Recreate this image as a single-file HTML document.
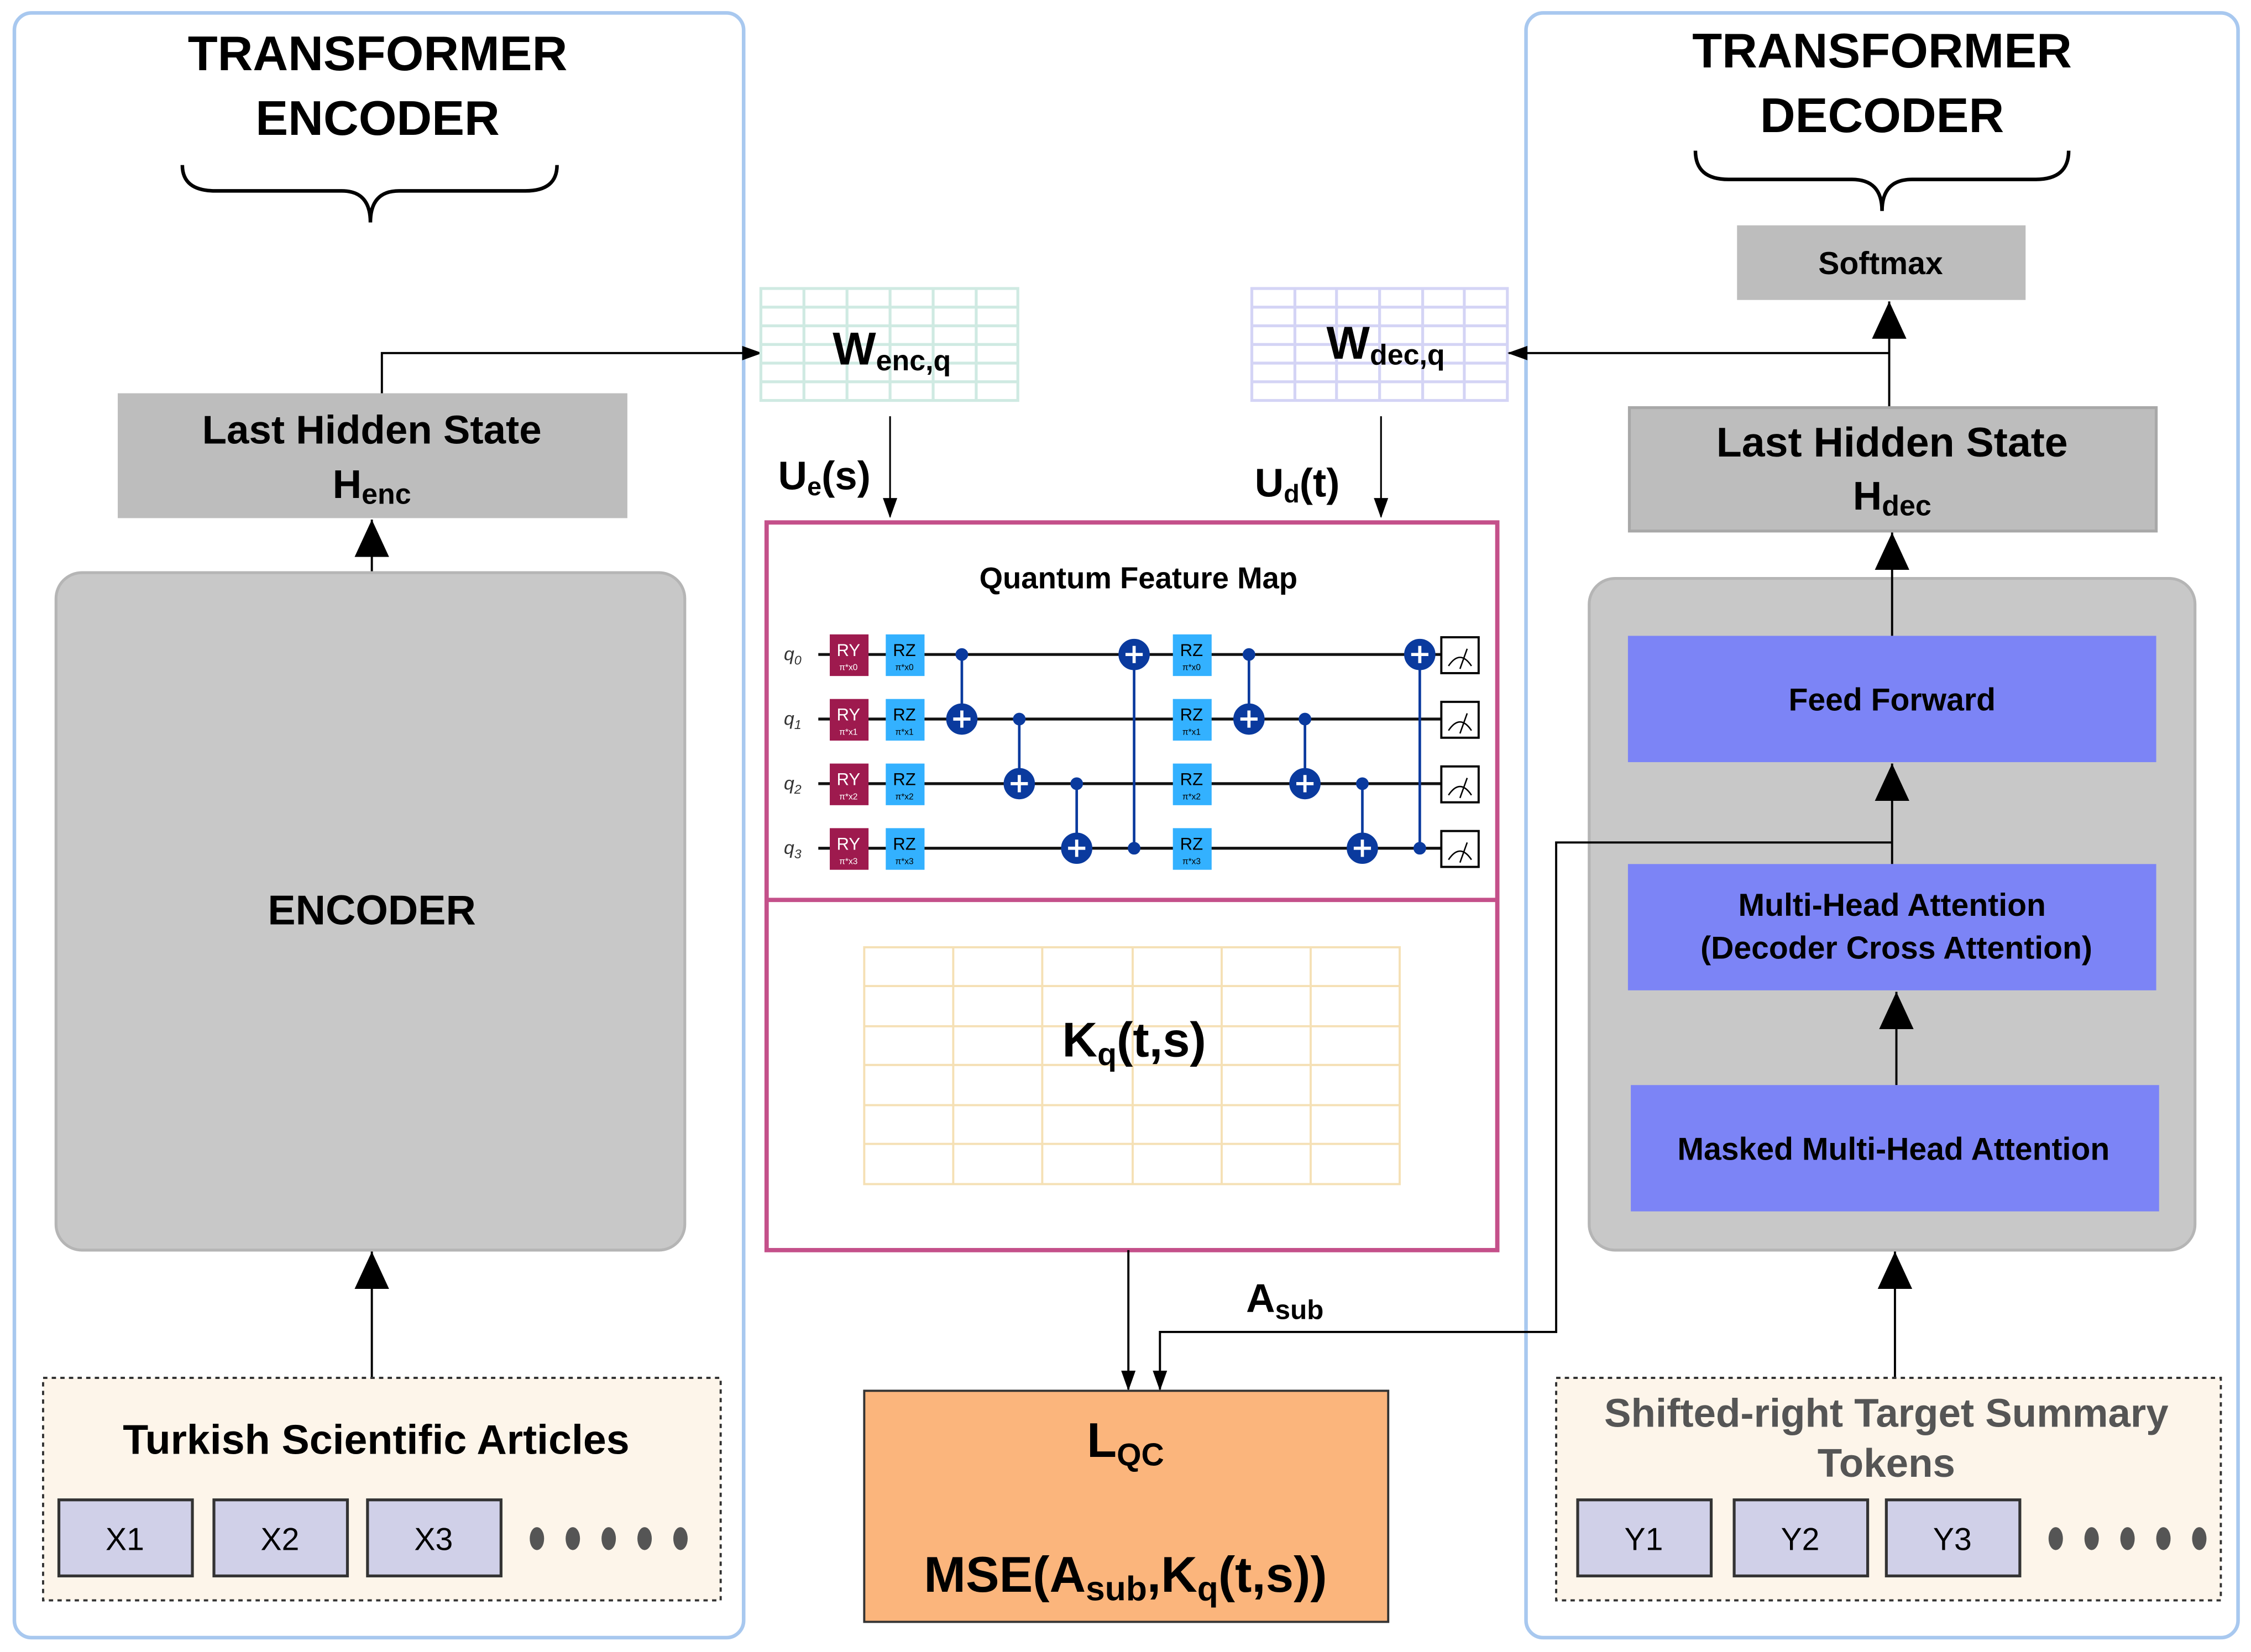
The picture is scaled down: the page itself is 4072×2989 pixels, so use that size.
<!DOCTYPE html>
<html><head><meta charset="utf-8"><style>
html,body{margin:0;padding:0;background:#fff;}
svg{display:block;}
text{font-family:"Liberation Sans",Arial,sans-serif;font-weight:bold;fill:#000;}
</style></head><body>
<svg width="4072" height="2989" viewBox="0 0 1568 1151" xmlns="http://www.w3.org/2000/svg">
<defs>
<marker id="sm" markerWidth="14" markerHeight="12" refX="13" refY="6" orient="auto" markerUnits="userSpaceOnUse" viewBox="0 0 14 12"><path d="M0,1 L14,6 L0,11 z" fill="#000"/></marker>
</defs>
<rect width="1568" height="1151" fill="#fff"/>

<!-- LEFT PANEL -->
<rect x="10" y="9" width="508" height="1132" rx="12" fill="none" stroke="#a8c8ef" stroke-width="2.5"/>
<text x="263" y="49" font-size="34" text-anchor="middle">TRANSFORMER</text>
<text x="263" y="94" font-size="34" text-anchor="middle">ENCODER</text>
<path d="M127,115 Q127,133 150,133 L238,133 Q258,133 258,155 Q258,133 278,133 L366,133 Q388,133 388,115" fill="none" stroke="#000" stroke-width="2.5"/>

<rect x="82" y="274" width="355" height="87" fill="#bdbdbd"/>
<text x="259" y="309" font-size="28" text-anchor="middle">Last Hidden State</text>
<text x="259" y="347" font-size="28" text-anchor="middle">H<tspan font-size="20" dy="4">enc</tspan></text>

<polyline points="266,274 266,246 530,246" fill="none" stroke="#000" stroke-width="1.5" marker-end="url(#sm)"/>
<line x1="259" y1="399" x2="259" y2="362" stroke="#000" stroke-width="1.5"/>
<path d="M247,388 L259,362 L271,388 z" fill="#000"/>

<rect x="39" y="399" width="438" height="472" rx="18" fill="#c8c8c8" stroke="#b5b5b5" stroke-width="2"/>
<text x="259" y="644" font-size="29" text-anchor="middle">ENCODER</text>

<line x1="259" y1="960" x2="259" y2="872" stroke="#000" stroke-width="1.5"/>
<path d="M247,898 L259,872 L271,898 z" fill="#000"/>

<rect x="30" y="960" width="472" height="155" fill="#fdf5ea" stroke="#333" stroke-width="1.5" stroke-dasharray="3,3"/>
<text x="262" y="1013" font-size="29" text-anchor="middle">Turkish Scientific Articles</text>
<rect x="41" y="1045" width="93" height="53" fill="#d0d0e8" stroke="#333" stroke-width="2"/>
<rect x="149" y="1045" width="93" height="53" fill="#d0d0e8" stroke="#333" stroke-width="2"/>
<rect x="256" y="1045" width="93" height="53" fill="#d0d0e8" stroke="#333" stroke-width="2"/>
<text x="87" y="1080" font-size="22" text-anchor="middle" style="font-weight:normal">X1</text>
<text x="195" y="1080" font-size="22" text-anchor="middle" style="font-weight:normal">X2</text>
<text x="302" y="1080" font-size="22" text-anchor="middle" style="font-weight:normal">X3</text>
<g fill="#555"><ellipse cx="374" cy="1072" rx="5" ry="8"/><ellipse cx="399" cy="1072" rx="5" ry="8"/><ellipse cx="424" cy="1072" rx="5" ry="8"/><ellipse cx="449" cy="1072" rx="5" ry="8"/><ellipse cx="474" cy="1072" rx="5" ry="8"/></g>

<!-- CENTER -->
<g stroke="#cfeae2" stroke-width="2" fill="none">
<rect x="530" y="201" width="179" height="78"/>
<line x1="560" y1="201" x2="560" y2="279"/><line x1="590" y1="201" x2="590" y2="279"/><line x1="620" y1="201" x2="620" y2="279"/><line x1="650" y1="201" x2="650" y2="279"/><line x1="680" y1="201" x2="680" y2="279"/>
<line x1="530" y1="214" x2="709" y2="214"/><line x1="530" y1="227" x2="709" y2="227"/><line x1="530" y1="240" x2="709" y2="240"/><line x1="530" y1="253" x2="709" y2="253"/><line x1="530" y1="266" x2="709" y2="266"/>
</g>
<g stroke="#d4d4f5" stroke-width="2" fill="none">
<rect x="872" y="201" width="178" height="78"/>
<line x1="902" y1="201" x2="902" y2="279"/><line x1="931" y1="201" x2="931" y2="279"/><line x1="961" y1="201" x2="961" y2="279"/><line x1="991" y1="201" x2="991" y2="279"/><line x1="1020" y1="201" x2="1020" y2="279"/>
<line x1="872" y1="214" x2="1050" y2="214"/><line x1="872" y1="227" x2="1050" y2="227"/><line x1="872" y1="240" x2="1050" y2="240"/><line x1="872" y1="253" x2="1050" y2="253"/><line x1="872" y1="266" x2="1050" y2="266"/>
</g>
<text x="580" y="254" font-size="32">W<tspan font-size="20" dy="4">enc,q</tspan></text>
<text x="924" y="250" font-size="32">W<tspan font-size="20" dy="4">dec,q</tspan></text>

<line x1="620" y1="290" x2="620" y2="360" stroke="#000" stroke-width="1.2" marker-end="url(#sm)"/>
<line x1="962" y1="290" x2="962" y2="360" stroke="#000" stroke-width="1.2" marker-end="url(#sm)"/>
<text x="542" y="341" font-size="28">U<tspan font-size="18" dy="4">e</tspan><tspan dy="-4">(s)</tspan></text>
<text x="874" y="346" font-size="28">U<tspan font-size="18" dy="4">d</tspan><tspan dy="-4">(t)</tspan></text>

<rect x="534" y="364" width="509" height="507" fill="#fff" stroke="#c4508a" stroke-width="3"/>
<line x1="534" y1="627" x2="1043" y2="627" stroke="#c4508a" stroke-width="3"/>
<text x="793" y="410" font-size="21" text-anchor="middle">Quantum Feature Map</text>

<!-- circuit -->
<g stroke="#111" stroke-width="2">
<line x1="570" y1="456" x2="1004" y2="456"/><line x1="570" y1="501" x2="1004" y2="501"/><line x1="570" y1="546" x2="1004" y2="546"/><line x1="570" y1="591" x2="1004" y2="591"/>
</g>
<g font-size="13">
<text x="546" y="460" style="font-weight:normal;font-style:italic;fill:#333">q<tspan font-size="9" dy="3">0</tspan></text>
<text x="546" y="505" style="font-weight:normal;font-style:italic;fill:#333">q<tspan font-size="9" dy="3">1</tspan></text>
<text x="546" y="550" style="font-weight:normal;font-style:italic;fill:#333">q<tspan font-size="9" dy="3">2</tspan></text>
<text x="546" y="595" style="font-weight:normal;font-style:italic;fill:#333">q<tspan font-size="9" dy="3">3</tspan></text>
</g>
<g>
<rect x="578" y="442" width="27" height="29" fill="#9e1a4e"/><rect x="578" y="487" width="27" height="29" fill="#9e1a4e"/><rect x="578" y="532" width="27" height="29" fill="#9e1a4e"/><rect x="578" y="577" width="27" height="29" fill="#9e1a4e"/>
<rect x="617" y="442" width="27" height="29" fill="#33b1ff"/><rect x="617" y="487" width="27" height="29" fill="#33b1ff"/><rect x="617" y="532" width="27" height="29" fill="#33b1ff"/><rect x="617" y="577" width="27" height="29" fill="#33b1ff"/>
<rect x="817" y="442" width="27" height="29" fill="#33b1ff"/><rect x="817" y="487" width="27" height="29" fill="#33b1ff"/><rect x="817" y="532" width="27" height="29" fill="#33b1ff"/><rect x="817" y="577" width="27" height="29" fill="#33b1ff"/>
</g>
<g font-size="12" text-anchor="middle">
<text x="591" y="457" style="font-weight:normal;fill:#fff">RY</text><text x="591" y="502" style="font-weight:normal;fill:#fff">RY</text><text x="591" y="547" style="font-weight:normal;fill:#fff">RY</text><text x="591" y="592" style="font-weight:normal;fill:#fff">RY</text>
<text x="630" y="457" style="font-weight:normal">RZ</text><text x="630" y="502" style="font-weight:normal">RZ</text><text x="630" y="547" style="font-weight:normal">RZ</text><text x="630" y="592" style="font-weight:normal">RZ</text>
<text x="830" y="457" style="font-weight:normal">RZ</text><text x="830" y="502" style="font-weight:normal">RZ</text><text x="830" y="547" style="font-weight:normal">RZ</text><text x="830" y="592" style="font-weight:normal">RZ</text>
</g>
<g font-size="6" text-anchor="middle">
<text x="591" y="467" style="font-weight:normal;fill:#fff">π*x0</text><text x="591" y="512" style="font-weight:normal;fill:#fff">π*x1</text><text x="591" y="557" style="font-weight:normal;fill:#fff">π*x2</text><text x="591" y="602" style="font-weight:normal;fill:#fff">π*x3</text>
<text x="630" y="467" style="font-weight:normal">π*x0</text><text x="630" y="512" style="font-weight:normal">π*x1</text><text x="630" y="557" style="font-weight:normal">π*x2</text><text x="630" y="602" style="font-weight:normal">π*x3</text>
<text x="830" y="467" style="font-weight:normal">π*x0</text><text x="830" y="512" style="font-weight:normal">π*x1</text><text x="830" y="557" style="font-weight:normal">π*x2</text><text x="830" y="602" style="font-weight:normal">π*x3</text>
</g>
<g stroke="#0a3a9e" stroke-width="1.8" fill="#0a3a9e">
<line x1="670" y1="456" x2="670" y2="501"/><circle cx="670" cy="456" r="3.5"/><circle cx="670" cy="501" r="10"/>
<line x1="710" y1="501" x2="710" y2="546"/><circle cx="710" cy="501" r="3.5"/><circle cx="710" cy="546" r="10"/>
<line x1="750" y1="546" x2="750" y2="591"/><circle cx="750" cy="546" r="3.5"/><circle cx="750" cy="591" r="10"/>
<line x1="790" y1="456" x2="790" y2="591"/><circle cx="790" cy="591" r="3.5"/><circle cx="790" cy="456" r="10"/>
<line x1="870" y1="456" x2="870" y2="501"/><circle cx="870" cy="456" r="3.5"/><circle cx="870" cy="501" r="10"/>
<line x1="909" y1="501" x2="909" y2="546"/><circle cx="909" cy="501" r="3.5"/><circle cx="909" cy="546" r="10"/>
<line x1="949" y1="546" x2="949" y2="591"/><circle cx="949" cy="546" r="3.5"/><circle cx="949" cy="591" r="10"/>
<line x1="989" y1="456" x2="989" y2="591"/><circle cx="989" cy="591" r="3.5"/><circle cx="989" cy="456" r="10"/>
</g>
<g stroke="#fff" stroke-width="2.2">
<path d="M664,501 H676 M670,495 V507"/><path d="M704,546 H716 M710,540 V552"/><path d="M744,591 H756 M750,585 V597"/><path d="M784,456 H796 M790,450 V462"/>
<path d="M864,501 H876 M870,495 V507"/><path d="M903,546 H915 M909,540 V552"/><path d="M943,591 H955 M949,585 V597"/><path d="M983,456 H995 M989,450 V462"/>
</g>
<g stroke="#000" stroke-width="1.5" fill="#fff">
<rect x="1004" y="444" width="26" height="25"/><rect x="1004" y="489" width="26" height="25"/><rect x="1004" y="534" width="26" height="25"/><rect x="1004" y="579" width="26" height="25"/>
</g>
<g stroke="#000" stroke-width="1" fill="none">
<path d="M1009,464 Q1017,452 1025,464 M1017,466 L1022,452"/><path d="M1009,509 Q1017,497 1025,509 M1017,511 L1022,497"/><path d="M1009,554 Q1017,542 1025,554 M1017,556 L1022,542"/><path d="M1009,599 Q1017,587 1025,599 M1017,601 L1022,587"/>
</g>

<!-- Kq grid -->
<g stroke="#f5e0b5" stroke-width="1.5" fill="none">
<rect x="602" y="660" width="373" height="165"/>
<line x1="664" y1="660" x2="664" y2="825"/><line x1="726" y1="660" x2="726" y2="825"/><line x1="789" y1="660" x2="789" y2="825"/><line x1="851" y1="660" x2="851" y2="825"/><line x1="913" y1="660" x2="913" y2="825"/>
<line x1="602" y1="687" x2="975" y2="687"/><line x1="602" y1="715" x2="975" y2="715"/><line x1="602" y1="742" x2="975" y2="742"/><line x1="602" y1="770" x2="975" y2="770"/><line x1="602" y1="797" x2="975" y2="797"/>
</g>
<text x="790" y="736" font-size="34" text-anchor="middle">K<tspan font-size="22" dy="6">q</tspan><tspan dy="-6">(t,s)</tspan></text>

<line x1="786" y1="871" x2="786" y2="968" stroke="#000" stroke-width="1.5" marker-end="url(#sm)"/>
<text x="868" y="914" font-size="28">A<tspan font-size="19" dy="5">sub</tspan></text>

<rect x="602" y="969" width="365" height="161" fill="#fbb57c" stroke="#333" stroke-width="1.5"/>
<text x="784" y="1015" font-size="34" text-anchor="middle">L<tspan font-size="22" dy="6">QC</tspan></text>
<text x="784" y="1109" font-size="35" text-anchor="middle">MSE(A<tspan font-size="24" dy="6">sub</tspan><tspan dy="-6">,K</tspan><tspan font-size="24" dy="6">q</tspan><tspan dy="-6">(t,s))</tspan></text>

<!-- RIGHT PANEL -->
<rect x="1063" y="9" width="496" height="1132" rx="12" fill="none" stroke="#a8c8ef" stroke-width="2.5"/>
<text x="1311" y="47" font-size="34" text-anchor="middle">TRANSFORMER</text>
<text x="1311" y="92" font-size="34" text-anchor="middle">DECODER</text>
<path d="M1181,105 Q1181,125 1204,125 L1290,125 Q1311,125 1311,147 Q1311,125 1332,125 L1418,125 Q1441,125 1441,105" fill="none" stroke="#000" stroke-width="2.5"/>

<rect x="1210" y="157" width="201" height="52" fill="#bdbdbd"/>
<text x="1310" y="191" font-size="22" text-anchor="middle">Softmax</text>

<line x1="1316" y1="284" x2="1316" y2="210" stroke="#000" stroke-width="1.5"/>
<path d="M1304,236 L1316,210 L1328,236 z" fill="#000"/>
<line x1="1316" y1="246" x2="1051" y2="246" stroke="#000" stroke-width="1.5" marker-end="url(#sm)"/>

<rect x="1135" y="284" width="367" height="86" fill="#bdbdbd" stroke="#a8a8a8" stroke-width="2"/>
<text x="1318" y="318" font-size="29" text-anchor="middle">Last Hidden State</text>
<text x="1318" y="355" font-size="28" text-anchor="middle">H<tspan font-size="20" dy="4">dec</tspan></text>

<rect x="1107" y="403" width="422" height="468" rx="18" fill="#c8c8c8" stroke="#b5b5b5" stroke-width="2"/>
<line x1="1318" y1="443" x2="1318" y2="371" stroke="#000" stroke-width="1.5"/>
<path d="M1306,397 L1318,371 L1330,397 z" fill="#000"/>

<rect x="1134" y="443" width="368" height="88" fill="#7c84f6"/>
<text x="1318" y="495" font-size="22" text-anchor="middle">Feed Forward</text>
<line x1="1318" y1="602" x2="1318" y2="532" stroke="#000" stroke-width="1.5"/>
<path d="M1306,558 L1318,532 L1330,558 z" fill="#000"/>

<rect x="1134" y="602" width="368" height="88" fill="#7c84f6"/>
<text x="1318" y="638" font-size="22" text-anchor="middle">Multi-Head Attention</text>
<text x="1321" y="668" font-size="22" text-anchor="middle">(Decoder Cross Attention)</text>
<line x1="1321" y1="756" x2="1321" y2="691" stroke="#000" stroke-width="1.5"/>
<path d="M1309,717 L1321,691 L1333,717 z" fill="#000"/>

<rect x="1136" y="756" width="368" height="88" fill="#7c84f6"/>
<text x="1319" y="808" font-size="22" text-anchor="middle">Masked Multi-Head Attention</text>

<line x1="1320" y1="960" x2="1320" y2="872" stroke="#000" stroke-width="1.5"/>
<path d="M1308,898 L1320,872 L1332,898 z" fill="#000"/>

<rect x="1084" y="960" width="463" height="155" fill="#fdf5ea" stroke="#333" stroke-width="1.5" stroke-dasharray="3,3"/>
<text x="1314" y="994" font-size="28" text-anchor="middle" style="fill:#555">Shifted-right Target Summary</text>
<text x="1314" y="1029" font-size="28" text-anchor="middle" style="fill:#555">Tokens</text>
<rect x="1099" y="1045" width="93" height="53" fill="#d0d0e8" stroke="#333" stroke-width="2"/>
<rect x="1208" y="1045" width="93" height="53" fill="#d0d0e8" stroke="#333" stroke-width="2"/>
<rect x="1314" y="1045" width="93" height="53" fill="#d0d0e8" stroke="#333" stroke-width="2"/>
<text x="1145" y="1080" font-size="22" text-anchor="middle" style="font-weight:normal">Y1</text>
<text x="1254" y="1080" font-size="22" text-anchor="middle" style="font-weight:normal">Y2</text>
<text x="1360" y="1080" font-size="22" text-anchor="middle" style="font-weight:normal">Y3</text>
<g fill="#555"><ellipse cx="1432" cy="1072" rx="5" ry="8"/><ellipse cx="1457" cy="1072" rx="5" ry="8"/><ellipse cx="1482" cy="1072" rx="5" ry="8"/><ellipse cx="1507" cy="1072" rx="5" ry="8"/><ellipse cx="1532" cy="1072" rx="5" ry="8"/></g>

<!-- A_sub connector on top -->
<polyline points="1318,587 1084,587 1084,928 808,928 808,968" fill="none" stroke="#000" stroke-width="1.5" marker-end="url(#sm)"/>
</svg>
</body></html>
